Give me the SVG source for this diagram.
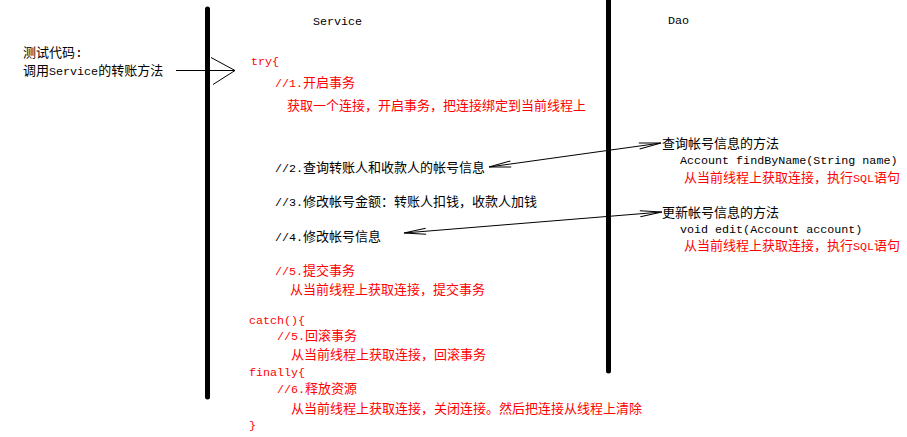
<svg xmlns="http://www.w3.org/2000/svg" width="907" height="437" viewBox="0 0 907 437">
<style>
text{font-family:"Liberation Mono","Noto Sans CJK SC",monospace;font-size:13px;fill:#000}
.r{fill:#f00}
.l{font-size:11.7px}
.bar{stroke:#000;stroke-width:5;stroke-linecap:round}
.conn{stroke:#000;stroke-width:1;fill:none}
</style>
<defs>
<marker id="thin" markerUnits="userSpaceOnUse" viewBox="-25 -6 27 12" refX="0" refY="0" markerWidth="27" markerHeight="12" orient="auto-start-reverse">
<path d="M-22,-3 L0,0 L-22,3" fill="none" stroke="#000" stroke-width="1"/>
</marker>
<marker id="wide" markerUnits="userSpaceOnUse" viewBox="-26 -16 28 32" refX="0" refY="0" markerWidth="28" markerHeight="32" orient="auto">
<path d="M-24,-13 L0,0 L-22,14" fill="none" stroke="#000" stroke-width="1"/>
</marker>
</defs>
<g id="lifeline-service">
<line class="bar" x1="207.5" y1="9" x2="207.5" y2="397"/>
<text x="313" y="25" class="l">Service</text>
</g>
<g id="lifeline-dao">
<line class="bar" x1="608.5" y1="0" x2="608.5" y2="371"/>
<text x="668" y="24" class="l">Dao</text>
</g>
<g id="caller">
<text x="23" y="57">测试代码:</text>
<text x="23" y="75">调用<tspan class="l">Service</tspan>的转账方法</text>
</g>
<g id="service-code">
<text x="251" y="65" class="r l">try{</text>
<text x="275" y="87" class="r"><tspan class="l">//1.</tspan>开启事务</text>
<text x="287" y="110" class="r">获取一个连接，开启事务，把连接绑定到当前线程上</text>
<text x="275" y="172"><tspan class="l">//2.</tspan>查询转账人和收款人的帐号信息</text>
<text x="275" y="206"><tspan class="l">//3.</tspan>修改帐号金额：转账人扣钱，收款人加钱</text>
<text x="275" y="241"><tspan class="l">//4.</tspan>修改帐号信息</text>
<text x="275" y="275" class="r"><tspan class="l">//5.</tspan>提交事务</text>
<text x="290" y="294" class="r">从当前线程上获取连接，提交事务</text>
<text x="249" y="324" class="r l">catch(){</text>
<text x="277" y="340" class="r"><tspan class="l">//5.</tspan>回滚事务</text>
<text x="291" y="359" class="r">从当前线程上获取连接，回滚事务</text>
<text x="249" y="376" class="r l">finally{</text>
<text x="277" y="393" class="r"><tspan class="l">//6.</tspan>释放资源</text>
<text x="291" y="413" class="r">从当前线程上获取连接，关闭连接。然后把连接从线程上清除</text>
<text x="249" y="429" class="r l">}</text>
</g>
<g id="dao-find">
<text x="662" y="148">查询帐号信息的方法</text>
<text x="680" y="164" class="l">Account findByName(String name)</text>
<text x="684" y="182" class="r">从当前线程上获取连接，执行<tspan class="l">SQL</tspan>语句</text>
</g>
<g id="dao-edit">
<text x="662" y="217">更新帐号信息的方法</text>
<text x="680" y="233" class="l">void edit(Account account)</text>
<text x="684" y="250" class="r">从当前线程上获取连接，执行<tspan class="l">SQL</tspan>语句</text>
</g>
<g id="connectors">
<line class="conn" x1="176" y1="70.5" x2="235" y2="70.5" marker-end="url(#wide)"/>
<line class="conn" x1="489" y1="167" x2="661" y2="143" marker-start="url(#thin)" marker-end="url(#thin)"/>
<line class="conn" x1="404" y1="233" x2="662" y2="212" marker-start="url(#thin)" marker-end="url(#thin)"/>
</g>
</svg>
